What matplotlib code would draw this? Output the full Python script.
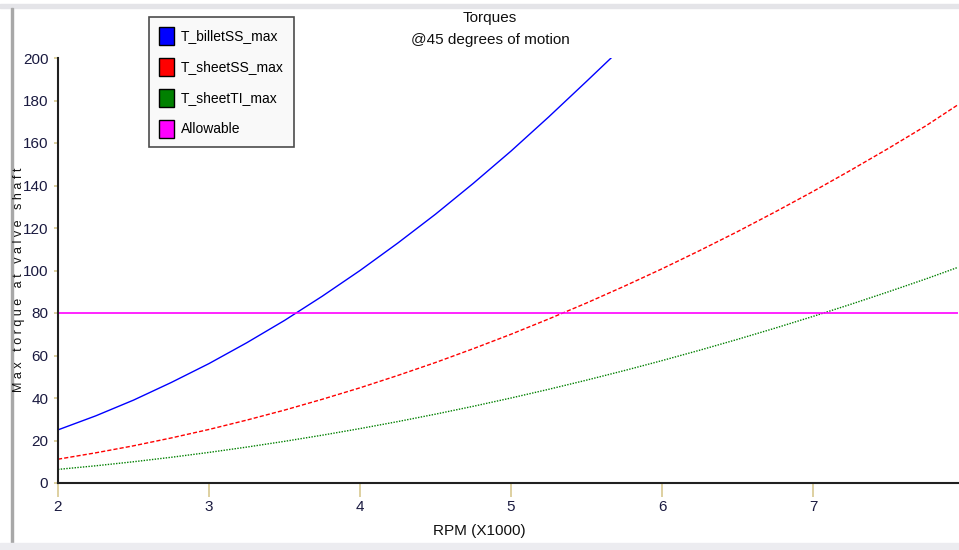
import numpy as np
import matplotlib.pyplot as plt
from matplotlib.patches import Rectangle, Patch

plt.rcParams['font.family'] = ['Liberation Sans', 'DejaVu Sans']

# values
rpm = [2.0, 2.25, 2.5, 2.75, 3.0, 3.25, 3.5, 3.75, 4.0, 4.25, 4.5, 4.75, 5.0, 5.25, 5.5, 5.67]
billet = [25, 31.6, 39, 47.3, 56.2, 66, 76.5, 87.9, 100, 112.9, 126.5, 141, 156.2, 172.3, 189, 200.5]

rpm2 = [2.0, 2.25, 2.5, 2.75, 3.0, 3.25, 3.5, 3.75, 4.0, 4.25, 4.5, 4.75, 5.0, 5.25, 5.5,
        5.75, 6.0, 6.25, 6.5, 6.75, 7.0, 7.25, 7.5, 7.75, 7.96]
sheet_ss = [11.2, 14.2, 17.5, 21.2, 25.2, 29.6, 34.3, 39.4, 44.8, 50.6, 56.7, 63.2, 70, 77.2,
            84.7, 92.6, 100.8, 109.4, 118.3, 127.6, 137.2, 147.2, 157.5, 168.2, 178]
sheet_ti = [6.4, 8.1, 10, 12.1, 14.4, 16.9, 19.6, 22.5, 25.6, 28.9, 32.4, 36.1, 40, 44.1,
            48.4, 52.9, 57.6, 62.5, 67.6, 72.9, 78.4, 84.1, 90, 96.1, 101.5]
allowable = 80

names = ['T_billetSS_max', 'T_sheetSS_max', 'T_sheetTI_max', 'Allowable']
colors = ['#0000ff', '#ff0000', '#008000', '#ff00ff']

fig = plt.figure(figsize=(9.59, 5.5), dpi=100)
ax = fig.add_axes([58 / 959, 67 / 550, 900 / 959, 425 / 550])

ax.plot(rpm, billet, color=colors[0], lw=1.0)
ax.plot(rpm2, sheet_ss, color=colors[1], lw=1.0, ls=(0, (3, 1.5)))
ax.plot(rpm2, sheet_ti, color=colors[2], lw=1.0, ls=(0, (1, 1)))
ax.axhline(allowable, color=colors[3], lw=1.2)

ax.set_xlim(2, 7.96)
ax.set_ylim(0, 200)
ax.set_xticks([2, 3, 4, 5, 6, 7])
ax.set_yticks(range(0, 201, 20))
for s in ['top', 'right']:
    ax.spines[s].set_visible(False)
for s in ['left', 'bottom']:
    ax.spines[s].set_linewidth(1.5)
    ax.spines[s].set_color('#202020')
ax.tick_params(axis='x', length=10, width=1.2, color='#d8c890', labelcolor='#1a1a40',
               labelsize=11, pad=2)
ax.tick_params(axis='y', length=3, width=1.2, color='#d8c890', labelcolor='#1a1a40',
               labelsize=11, pad=4)

fig.text(19 / 959, 1 - 280 / 550, 'M a x   t o r q u e   a t   v a l v e   s h a f t', rotation=90,
         ha='center', va='center', fontsize=9, color='#101010')
fig.text(0.50, 1 - 531 / 550, 'RPM (X1000)', ha='center', va='center',
         fontsize=11, color='#101010')
fig.text(0.511, 1 - 18 / 550, 'Torques', ha='center', va='center', fontsize=11, color='#101010')
fig.text(0.511, 1 - 40 / 550, '@45 degrees of motion', ha='center', va='center',
         fontsize=11, color='#101010')

handles = [Patch(facecolor=c, edgecolor='black', lw=1) for c in colors]
leg = fig.legend(handles, names, loc='upper left', bbox_to_anchor=(149 / 959, 1 - 17 / 550),
                 fontsize=10, frameon=True, fancybox=False, edgecolor='#202020',
                 handlelength=1.1, handleheight=1.6, handletextpad=0.5,
                 labelspacing=0.95, borderpad=0.7, borderaxespad=0)
leg.get_frame().set_facecolor('#f8f8f8')
leg.get_frame().set_linewidth(1.2)

# window chrome around the chart
fig.patches.append(Rectangle((0, 1 - 8 / 550), 1, 4 / 550, transform=fig.transFigure,
                             color='#e4e4e8', zorder=0))
fig.patches.append(Rectangle((11 / 959, 7 / 550), 2 / 959, 1 - 15 / 550, transform=fig.transFigure,
                             color='#a8a8a8', zorder=0))
fig.patches.append(Rectangle((0, 0), 1, 7 / 550, transform=fig.transFigure,
                             color='#ececf0', zorder=0))

fig.savefig('out.png', dpi=100)
